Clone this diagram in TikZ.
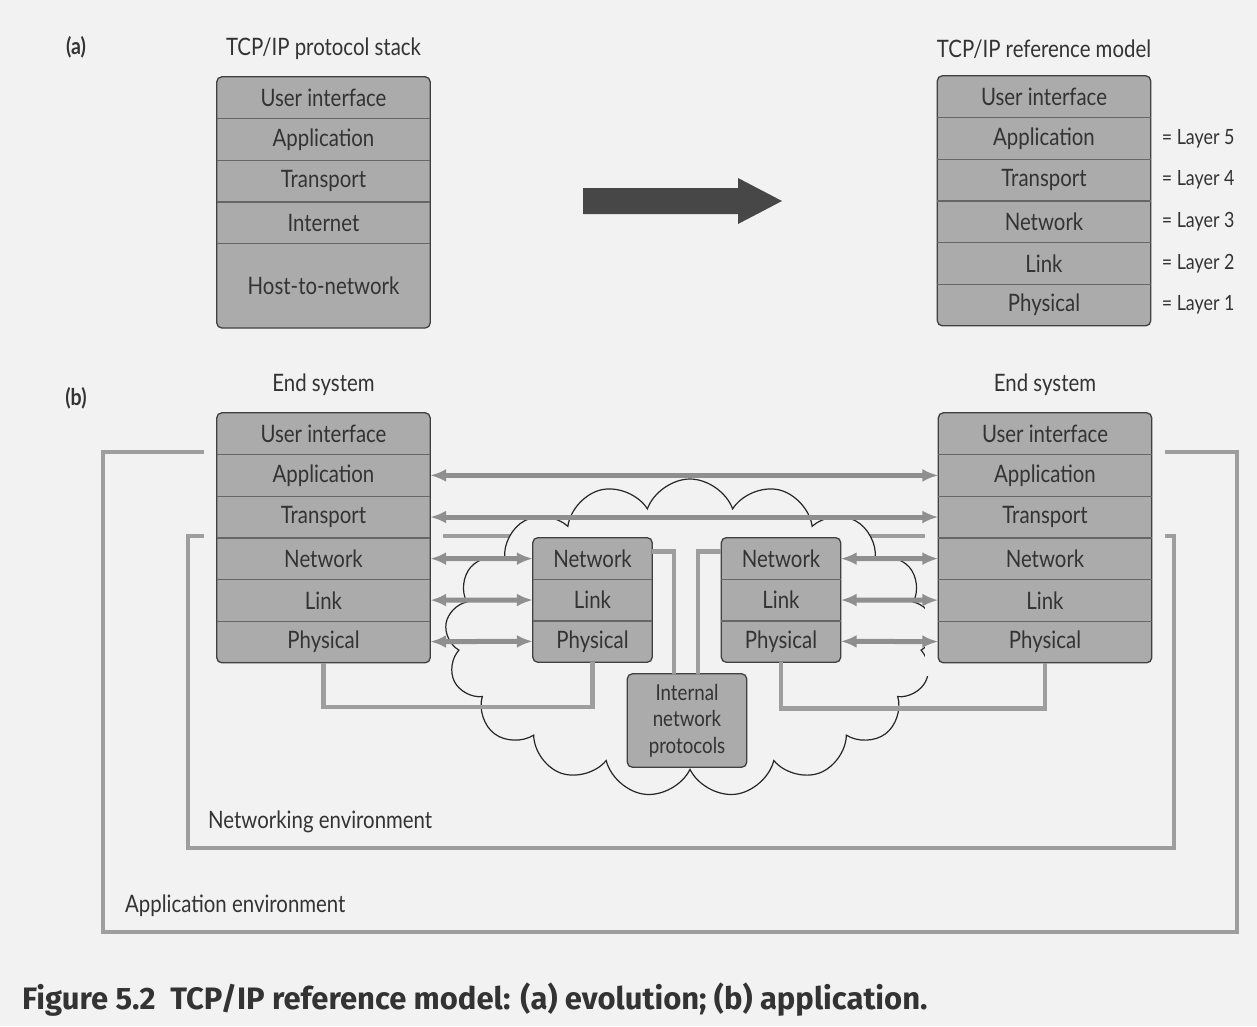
\documentclass[tikz,border=0pt]{standalone}
\usepackage{fontspec}
\setmainfont{Lato}[FakeStretch=0.85]
\newfontfamily\capfont{Fira Sans}
\usetikzlibrary{positioning,fit,backgrounds,shapes.symbols,arrows.meta}

\definecolor{paper}{gray}{0.95}
\definecolor{layerfill}{gray}{0.67}
\definecolor{arrowgray}{gray}{0.56}
\definecolor{envgray}{gray}{0.62}

\begin{document}
\begin{tikzpicture}[x=1pt, y=-1pt, font=\fontsize{24}{28}\selectfont, text=black!80]
	\tikzstyle{lay}=[rectangle, inner sep=0pt, minimum width=213pt, minimum height=41.6pt]
	\tikzstyle{short}=[lay, minimum width=119pt]
	\tikzstyle{frame}=[draw=black!75, line width=1.3pt, rounded corners=5pt, fill=layerfill, inner sep=0pt]
	\tikzstyle{halo}=[fill=paper, inner sep=13pt]
	\tikzstyle{sep}=[draw=black!60, line width=1.2pt]
	\tikzstyle{env}=[draw=envgray, line width=4pt]
	\tikzstyle{pipe}=[draw=envgray, line width=4.5pt]
	\tikzstyle{peer}=[draw=arrowgray, line width=5pt, {Latex[length=16pt,width=13pt]}-{Latex[length=16pt,width=13pt]}]
	\tikzstyle{lbl}=[inner sep=0pt]
	\tikzstyle{tag}=[lbl, font=\fontsize{23}{26}\selectfont\bfseries]

	\begin{scope}[on background layer]
		\fill[paper] (0,0) rectangle (1257,1026);
	\end{scope}
	\useasboundingbox (0,0) rectangle (1257,1026);

	% (a) evolution
	\node[tag] (tagA) at (76,47) {(a)};
	\foreach \t [count=\i] in {User interface,Application,Transport,Internet}
		\node[lay] (A\i) at (323.5,{77+41.6*\i-20.8}) {\t};
	\node[lay, below=0pt of A4, minimum height=84pt] (A5) {Host-to-network};
	\foreach \t [count=\i] in {User interface,Application,Transport,Network,Link,Physical}
		\node[lay] (B\i) at (1044,{76+41.6*\i-20.8}) {\t};
	\node[lbl, above=17pt of A1] (ttlA) {TCP/IP protocol stack};
	\node[lbl, above=17pt of B1] (ttlB) {TCP/IP reference model};
	\foreach \i/\n in {2/5,3/4,4/3,5/2,6/1}
		\node[lbl, right=11pt of B\i, font=\fontsize{21}{24}\selectfont] (eq\n) {= Layer \n};
	\fill[black!72] (583,188) -- (738,188) -- (738,178) -- (782,201) -- (738,224) -- (738,214) -- (583,214) -- cycle;

	% (b) application
	\node[tag] (tagB) at (76,398) {(b)};
	\foreach \t [count=\i] in {User interface,Application,Transport,Network,Link,Physical} {
		\node[lay] (L\i) at (323.5,{413+41.6*\i-20.8}) {\t};
		\node[lay] (R\i) at (1045,{413+41.6*\i-20.8}) {\t};
	}
	\foreach \t [count=\i] in {Network,Link,Physical} {
		\node[short] (M\i) at (592.5,{538+41.3*\i-20.65}) {\t};
		\node[short] (N\i) at (781,{538+41.3*\i-20.65}) {\t};
	}
	\node[short, minimum height=93pt, align=center, font=\fontsize{22}{26.5}\selectfont] (inp) at (687,720.5) {Internal\\network\\protocols};
	\node[lbl, above=17pt of L1] (esL) {End system};
	\node[lbl, above=17pt of R1] (esR) {End system};
	\node[lbl, anchor=west] (netenv) at (208,822) {Networking environment};
	\node[lbl, anchor=west] (appenv) at (125,906) {Application environment};

	\draw[pipe] (L6.south) -- ++(0,44) -| (M3.south);
	\draw[pipe] (N3.south) -- ++(0,46) -| (R6.south);
	\draw[pipe] ([yshift=7pt]M1.east) -| ([xshift=-13pt]inp.north);
	\draw[pipe] ([yshift=7pt]N1.west) -| ([xshift=11pt]inp.north);

	\draw[peer] (L2) -- (R2);
	\draw[peer] (L3) -- (R3);
	\foreach \i/\j in {4/1,5/2,6/3} {
		\draw[peer] (L\i) -- (M\j);
		\draw[peer] (N\j) -- (R\i);
	}

	\foreach \s/\n in {A/4,B/5,L/5,R/5,M/2,N/2}
		\foreach \i in {1,...,\n}
			\draw[sep] (\s\i.south west) -- (\s\i.south east);

	\begin{scope}[on background layer]
		\draw[env] (204,452) -- (103,452) -- (103,932) -- (1237,932) -- (1237,452) -- (1163,452);
		\draw[env] (188,536) rectangle (1174,848);
		\node[cloud, draw=black!85, fill=paper, line width=1.2pt, cloud puffs=17, cloud puff arc=140, aspect=1.54, minimum width=490pt, minimum height=318pt] (cld) at (690,638) {};
		\node[halo, fit=(L1)(L6)] (haloL) {};
		\node[halo, fit=(R1)(R6)] (haloR) {};
		\foreach \s/\n in {A/5,B/6,L/6,R/6,M/3,N/3}
			\node[frame, fit=(\s1)(\s\n)] (fr\s) {};
		\node[frame, fit=(inp)] (frI) {};
	\end{scope}

	\node[lbl, anchor=west, font=\capfont\fontsize{31}{34}\selectfont\bfseries, text=black!80] (cap) at (22,1000) {Figure 5.2\ \ TCP/IP reference model: (a) evolution; (b) application.};
\end{tikzpicture}
\end{document}
